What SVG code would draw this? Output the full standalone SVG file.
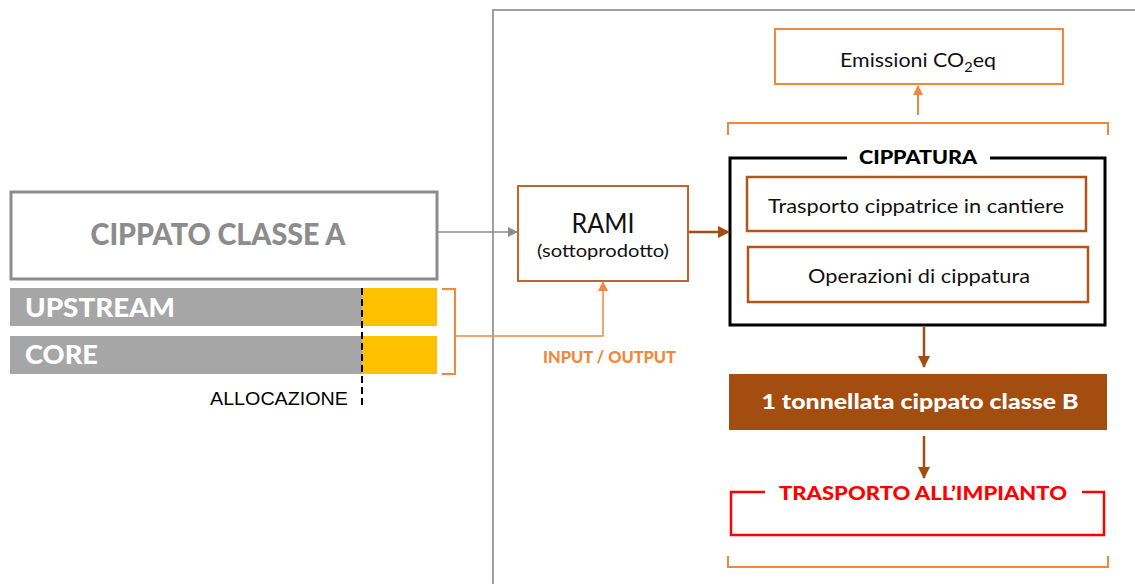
<svg xmlns="http://www.w3.org/2000/svg" width="1135" height="584" viewBox="0 0 1135 584">
<style>
.t{font-family:Lato,"Noto Sans",sans-serif}
.b{font-weight:900}
.or{fill:none;stroke:#f0883e;stroke-width:2}
.br{fill:none;stroke:#b0561c;stroke-width:2.5}
</style>
<defs>
<marker id="ag" markerWidth="10" markerHeight="10" refX="9" refY="5" orient="auto" markerUnits="userSpaceOnUse"><path d="M0,0 L10,5 L0,10 z" fill="#8c8c8c"/></marker>
<marker id="ao" markerWidth="10" markerHeight="10" refX="9" refY="5" orient="auto" markerUnits="userSpaceOnUse"><path d="M0,0 L10,5 L0,10 z" fill="#f0883e"/></marker>
<marker id="ab" markerWidth="12" markerHeight="12" refX="11" refY="6" orient="auto" markerUnits="userSpaceOnUse"><path d="M0,0 L12,6 L0,12 z" fill="#a34d12"/></marker>
</defs>
<rect width="1135" height="584" fill="#fff"/>
<g id="frame"><path d="M493,584 V10 H1135" fill="none" stroke="#a0a0a0" stroke-width="2"/></g>
<g id="cippato-a">
<rect x="11" y="192" width="426" height="87" fill="#fff" stroke="#8c8c8c" stroke-width="3"/>
<text class="t b" x="218" y="245" font-size="30" fill="#8c8c8c" text-anchor="middle" textLength="255" lengthAdjust="spacingAndGlyphs">CIPPATO CLASSE A</text>
</g>
<g id="upstream">
<rect x="10" y="288" width="352" height="38" fill="#a6a6a6"/>
<rect x="362" y="288" width="75" height="38" fill="#ffc000"/>
<text class="t b" x="25" y="317" font-size="26" fill="#fff" textLength="150" lengthAdjust="spacingAndGlyphs">UPSTREAM</text>
</g>
<g id="core">
<rect x="10" y="336" width="352" height="38" fill="#a6a6a6"/>
<rect x="362" y="336" width="75" height="38" fill="#ffc000"/>
<text class="t b" x="25" y="364" font-size="26" fill="#fff" textLength="73" lengthAdjust="spacingAndGlyphs">CORE</text>
</g>
<g id="allocazione">
<line x1="362" y1="288" x2="362" y2="408" stroke="#000" stroke-width="2" stroke-dasharray="7,4"/>
<text x="210" y="405" font-family="Liberation Sans,Arial,sans-serif" font-size="18" fill="#000" textLength="138" lengthAdjust="spacingAndGlyphs">ALLOCAZIONE</text>
</g>
<g id="rami">
<rect x="518" y="186" width="170" height="95" fill="#fff" stroke="#c0652a" stroke-width="2"/>
<text class="t" x="603" y="233" font-size="27" fill="#111" text-anchor="middle" textLength="63" lengthAdjust="spacingAndGlyphs">RAMI</text>
<text class="t" x="603" y="257" font-size="18" fill="#111" text-anchor="middle" textLength="132" lengthAdjust="spacingAndGlyphs">(sottoprodotto)</text>
</g>
<g id="io-label">
<text class="t b" x="543" y="363" font-size="16" fill="#f0883e" textLength="133" lengthAdjust="spacingAndGlyphs">INPUT / OUTPUT</text>
</g>
<g id="emissioni">
<rect x="775" y="29" width="288" height="55" fill="#fff" stroke="#f0883e" stroke-width="2"/>
<text class="t" x="840" y="67" font-size="19" fill="#111" textLength="156" lengthAdjust="spacingAndGlyphs">Emissioni CO<tspan font-size="13" dy="5">2</tspan><tspan dy="-5">eq</tspan></text>
</g>
<g id="cippatura">
<path d="M847,158 H730 V325 H1105 V158 H990" fill="none" stroke="#000" stroke-width="3"/>
<text class="t b" x="918" y="164" font-size="19" fill="#000" text-anchor="middle" textLength="118" lengthAdjust="spacingAndGlyphs">CIPPATURA</text>
</g>
<g id="trasporto-cippatrice">
<rect x="747" y="177" width="339" height="54" fill="#fff" class="br"/>
<text class="t" x="916" y="213" font-size="19" fill="#111" text-anchor="middle" textLength="296" lengthAdjust="spacingAndGlyphs">Trasporto cippatrice in cantiere</text>
</g>
<g id="operazioni">
<rect x="748" y="247" width="340" height="55" fill="#fff" class="br"/>
<text class="t" x="919" y="283" font-size="19" fill="#111" text-anchor="middle" textLength="222" lengthAdjust="spacingAndGlyphs">Operazioni di cippatura</text>
</g>
<g id="tonnellata">
<rect x="729" y="374" width="378" height="56" fill="#a34d10"/>
<text class="t b" x="920" y="409" font-size="21" fill="#fff" text-anchor="middle" textLength="317" lengthAdjust="spacingAndGlyphs">1 tonnellata cippato classe B</text>
</g>
<g id="trasporto-impianto">
<path d="M765,492 H731 V535 H1104 V492 H1082" fill="none" stroke="#ff0000" stroke-width="2.5"/>
<text class="t b" x="923" y="500" font-size="19" fill="#ff0000" text-anchor="middle" textLength="288" lengthAdjust="spacingAndGlyphs">TRASPORTO ALL’IMPIANTO</text>
</g>
<g id="brackets">
<path d="M442,289 H455 V374 H442" class="or"/>
<path d="M728,135 V123 H1108 V135" class="or"/>
<path d="M728,556 V567 H1108 V556" class="or"/>
</g>
<g id="connectors">
<line x1="438" y1="232" x2="517" y2="232" stroke="#8c8c8c" stroke-width="1.5" marker-end="url(#ag)"/>
<path d="M455,336 H603 V282" fill="none" stroke="#f0883e" stroke-width="1.5" marker-end="url(#ao)"/>
<line x1="689" y1="232" x2="729" y2="232" stroke="#a34d12" stroke-width="2.5" marker-end="url(#ab)"/>
<line x1="918" y1="115" x2="918" y2="86" stroke="#f0883e" stroke-width="2" marker-end="url(#ao)"/>
<line x1="924" y1="327" x2="924" y2="367" stroke="#a34d12" stroke-width="2.5" marker-end="url(#ab)"/>
<line x1="924" y1="436" x2="924" y2="478" stroke="#a34d12" stroke-width="2.5" marker-end="url(#ab)"/>
</g>
</svg>
